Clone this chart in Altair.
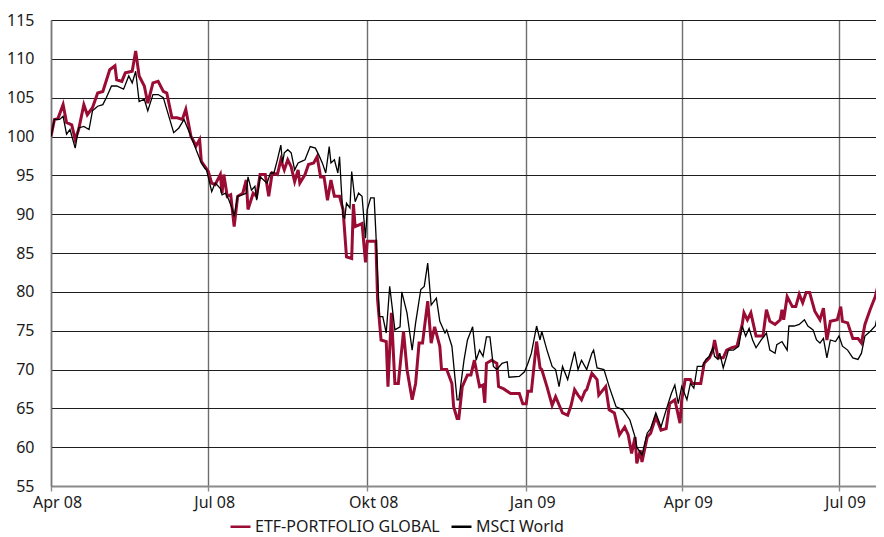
import altair as alt
import pandas as pd

# ---- data (day offset from 2008-04-01, index value) ----
etf_days = [0, 2, 4, 7, 9, 12, 14, 16, 19, 21, 24, 27, 30, 34, 37, 38, 41, 43, 47, 49,
            51, 54, 56, 59, 62, 65, 67, 70, 73, 76, 78, 81, 84, 86, 87, 91, 93, 95, 98, 99,
            100, 102, 104, 106, 108, 111, 113, 114, 117, 119, 121, 124, 126, 128, 131, 133, 135, 137, 139, 141,
            143, 144, 147, 149, 152, 154, 156, 158, 160, 162, 164, 167, 169, 171, 174, 175, 176, 178, 180, 182,
            183, 188, 189, 191, 194, 195, 197, 199, 201, 204, 206, 209, 211, 213, 215, 218, 220, 222, 225, 226,
            229, 232, 233, 235, 236, 238, 241, 243, 245, 248, 250, 251, 252, 255, 258, 259, 262, 266, 271, 273,
            275, 276, 278, 281, 283, 284, 287, 290, 292, 296, 299, 301, 303, 305, 307, 309, 310, 313, 316, 317,
            321, 323, 326, 329, 332, 334, 336, 338, 339, 341, 342, 345, 347, 350, 353, 356, 358, 361, 364, 365,
            367, 370, 371, 376, 378, 381, 383, 384, 386, 389, 391, 394, 397, 400, 401, 403, 405, 408, 412, 414,
            416, 419, 422, 423, 424, 426, 429, 431, 433, 435, 437, 439, 442, 445, 447, 449, 451, 455, 457, 458,
            461, 464, 467, 469, 471, 474, 477, 479, 482]
etf_vals = [100, 102.2, 102.3, 104.1, 101.8, 101.5, 99.6, 100.9, 104.1, 102.8, 103.7, 105.6, 105.8, 108.6, 109.1, 107.3, 107.1, 108.2, 108.4, 111,
            107.8, 106.5, 104.3, 106.9, 107.1, 105.8, 105.6, 102.4, 102.4, 102.2, 103.5, 100, 98.8, 99.6, 96.8, 95.5, 94, 93.8, 95.1, 92.7,
            95.1, 92.3, 92.5, 88.4, 92.3, 92.7, 94.4, 90.6, 92.7, 92.3, 95.1, 95.1, 92.3, 95.3, 95.1, 97, 95.7, 97, 96.1, 94.2,
            95.7, 94, 95.1, 96.4, 96.6, 97.4, 94.8, 94.8, 91.8, 94.4, 92.3, 92.3, 90.6, 84.5, 84.3, 91.3, 88.4, 88.6, 88.8, 83.8,
            86.5, 86.5, 79, 73.8, 73.6, 67.8, 77.3, 68.2, 68.2, 74.9, 70, 66.1, 68.2, 73.4, 73.4, 78.8, 73.4, 75.5, 73, 70,
            70, 68.2, 65.2, 63.7, 63.7, 67.8, 69.3, 69.3, 71.2, 67.8, 68, 65.7, 70.8, 71.2, 70.8, 67.8, 67.5, 66.9, 66.9, 65.6,
            65.6, 67.2, 67.2, 73.6, 70.2, 70, 67.8, 65.4, 66.5, 64.4, 64.1, 65.4, 67.4, 66.7, 66.1, 67.2, 67.4, 69.5, 68.7, 66.7,
            67.8, 64.8, 64.4, 61.6, 62.6, 61.6, 59.2, 61.3, 57.9, 59.6, 58.1, 61.3, 61.8, 63.9, 62.2, 62.4, 65.6, 66.1, 63.1, 66.1,
            68.7, 68.7, 68.2, 68.2, 70.8, 71.5, 72.5, 73.8, 71.5, 71.5, 72.5, 72.8, 73, 75.8, 77.3, 76.4, 77.3, 74.3, 74.3, 77.7,
            76.2, 75.8, 76.4, 77.7, 76.4, 79.4, 78.1, 78.1, 79.7, 78.6, 79.9, 79.9, 77.5, 76.4, 77.9, 73.8, 76.2, 76.4, 78.1, 76.2,
            76, 74, 74, 73.4, 75.8, 77.7, 79.4, 81.2, 81.4]

msci_days = [0, 2, 5, 7, 9, 11, 14, 16, 19, 22, 24, 27, 30, 32, 35, 38, 42, 45, 47, 49,
             51, 54, 56, 59, 62, 65, 67, 71, 74, 77, 81, 84, 87, 89, 90, 93, 95, 96, 98, 99,
             101, 103, 105, 106, 108, 111, 113, 114, 116, 118, 119, 121, 123, 125, 127, 129, 131, 133, 134, 135,
             137, 139, 141, 143, 145, 147, 148, 150, 153, 155, 157, 159, 161, 162, 164, 166, 167, 168, 169, 170,
             171, 173, 174, 176, 178, 180, 182, 183, 185, 187, 188, 190, 192, 194, 196, 199, 202, 203, 206, 209,
             211, 214, 216, 218, 220, 223, 225, 228, 229, 232, 235, 236, 239, 241, 244, 246, 248, 250, 252, 254,
             256, 258, 261, 264, 265, 271, 274, 276, 278, 281, 283, 284, 287, 290, 292, 294, 296, 299, 303, 305,
             307, 310, 313, 314, 316, 320, 323, 327, 331, 335, 338, 339, 342, 345, 347, 350, 353, 356, 359, 361,
             363, 365, 368, 370, 372, 374, 377, 379, 381, 383, 384, 386, 387, 389, 391, 392, 395, 398, 400, 402,
             404, 406, 408, 411, 414, 416, 419, 420, 423, 426, 427, 430, 433, 436, 438, 441, 443, 445, 447, 449,
             451, 454, 456, 458, 461, 464, 467, 469, 471, 474, 477, 479, 482]
msci_vals = [100, 102.2, 102.2, 102.6, 100.3, 100.9, 98.5, 101.1, 101.3, 100.9, 103.3, 103.9, 104.1, 105, 106.5, 106.5, 106.1, 107.8, 106.9, 108.4,
             104.5, 104.8, 103.3, 105.4, 105.4, 105, 103.5, 100.5, 101.1, 102.2, 100, 98.3, 96.6, 95.9, 95.7, 92.9, 94, 93.8, 93.3, 92.5,
             92.7, 91.8, 90.6, 89.7, 92.3, 92.5, 92.7, 94.8, 93.1, 93.6, 91.8, 94.8, 94.4, 94, 95.3, 95.3, 97, 98.9, 96.6, 97.9,
             98.3, 97.9, 95.7, 96.6, 96.8, 97, 97.6, 98.7, 98.5, 97.6, 96.6, 95.3, 98.7, 96.6, 97, 95.3, 97.4, 93.3, 89.7, 89.5,
             91.4, 90.8, 95.5, 91.6, 92.7, 92.3, 86.9, 90.6, 92.1, 92.1, 87.6, 76.8, 76.8, 74.7, 80.7, 75.1, 75.5, 80, 77.3, 72.5,
             76, 80.3, 80.7, 83.7, 78.3, 79.2, 76.2, 74.7, 75.1, 73, 66.1, 66.1, 71.2, 73.8, 75.5, 71.2, 72.5, 71.7, 74.2, 74.2,
             70.4, 70, 70.8, 71, 69, 69.1, 69.7, 70.8, 72.1, 75.6, 73.8, 74.9, 72.5, 70.4, 70, 67.8, 70.4, 68.7, 72.3, 70,
             71.2, 70, 72.1, 72.5, 70.2, 70, 67.8, 65.2, 64.8, 63.5, 61.3, 60, 59, 61.8, 62.4, 64.4, 62.6, 64.8, 66.9, 68,
             65.6, 67.8, 66.1, 68.2, 67.6, 70.4, 70.4, 71.3, 71.7, 72.8, 71.7, 71.3, 72.1, 70.2, 71.7, 72.5, 72.5, 73, 75.6, 74.3,
             75.3, 73.8, 72.8, 73.8, 74.7, 72.5, 72.1, 73.2, 73.6, 72.5, 75.6, 75.6, 75.8, 76.4, 75.6, 75.1, 73.8, 73.4, 74, 71.5,
             73.8, 73.6, 74.3, 73, 72.5, 71.5, 71.3, 72.1, 74.3, 74.9, 75.6, 77.7, 77.9]

series_names = ["ETF-PORTFOLIO GLOBAL", "MSCI World"]
series_colors = ["#9a0c34", "#000000"]

tick_dates = [(2008, 4), (2008, 7), (2008, 10), (2009, 1), (2009, 4), (2009, 7)]
tick_labels = ["Apr 08", "Jul 08", "Okt 08", "Jan 09", "Apr 09", "Jul 09"]
y_ticks = list(range(55, 116, 5))

start = pd.Timestamp("2008-04-01")
etf = pd.DataFrame({"date": start + pd.to_timedelta(etf_days, unit="D"),
                    "value": etf_vals, "series": series_names[0]})
msci = pd.DataFrame({"date": start + pd.to_timedelta(msci_days, unit="D"),
                     "value": msci_vals, "series": series_names[1]})

label_expr = " : ".join(
    f"(year(datum.value) == {y} && month(datum.value) == {m - 1}) ? '{lab}'"
    for (y, m), lab in zip(tick_dates, tick_labels)
) + " : ''"

FONT = "Noto Sans"

x_enc = alt.X(
    "date:T",
    scale=alt.Scale(domain=[alt.DateTime(year=2008, month=4, date=1),
                            alt.DateTime(year=2009, month=7, date=22, hours=10)]),
    axis=alt.Axis(
        values=[alt.DateTime(year=y, month=m, date=1) for y, m in tick_dates],
        labelExpr=label_expr, title=None, grid=True, gridColor="#6e6e6e", gridWidth=1.4,
        domainColor="#8a8a8a", domainWidth=2, tickColor="#8a8a8a", tickSize=5, tickWidth=1.4,
        labelFont=FONT, labelFontSize=16, labelColor="#1a1a1a", labelPadding=3, labelOffset=6,
        labelFlush=False,
    ),
)
y_enc = alt.Y(
    "value:Q",
    scale=alt.Scale(domain=[55, 115], nice=False, zero=False),
    axis=alt.Axis(
        values=y_ticks, title=None, grid=True, gridColor="#1e1e1e", gridWidth=1,
        domainColor="#777777", domainWidth=1.5, ticks=False, labelPadding=17,
        labelFont=FONT, labelFontSize=16, labelColor="#1a1a1a",
    ),
)
color_enc = alt.Color(
    "series:N",
    scale=alt.Scale(domain=series_names, range=series_colors),
    legend=alt.Legend(
        title=None, orient="none", legendX=178, legendY=495, direction="horizontal",
        symbolType="stroke", symbolSize=400, symbolStrokeWidth=2.5,
        labelFont=FONT, labelFontSize=16, labelColor="#1a1a1a", labelOffset=3,
        labelLimit=0, columnPadding=6,
    ),
)

etf_line = alt.Chart(etf).mark_line(strokeWidth=3, clip=True, strokeJoin="miter").encode(
    x=x_enc, y=y_enc, color=color_enc)
msci_line = alt.Chart(msci).mark_line(strokeWidth=1.3, clip=True).encode(
    x=x_enc, y=y_enc, color=color_enc)

chart = alt.layer(etf_line, msci_line).properties(
    width=825, height=466,
    autosize=alt.AutoSizeParams(type="none"),
    padding={"left": 43, "top": 12, "right": 0, "bottom": 51},
    background="white",
).configure_view(stroke=None)

chart.save("out.html", embed_options={"renderer": "svg", "actions": False})
